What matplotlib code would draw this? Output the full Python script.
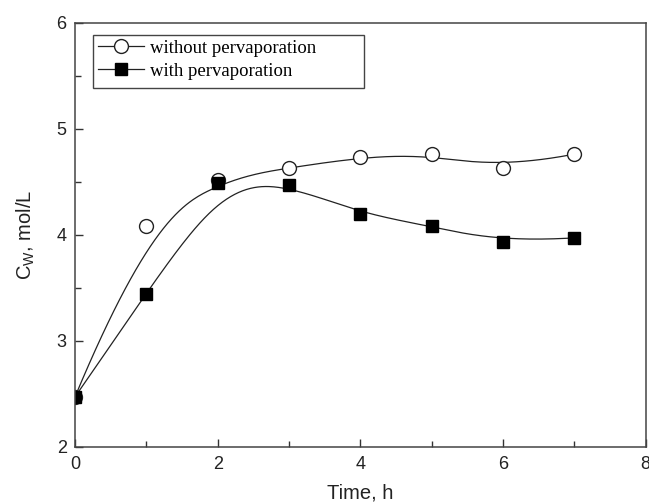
import matplotlib
matplotlib.use("Agg")
import matplotlib.pyplot as plt
from matplotlib.ticker import MultipleLocator
from matplotlib.lines import Line2D
from matplotlib.patches import Rectangle
import numpy as np

time_h = [0, 1, 2, 3, 4, 5, 6, 7]
cw_without = [2.47, 4.08, 4.52, 4.63, 4.73, 4.76, 4.63, 4.76]
cw_with = [2.47, 3.44, 4.49, 4.47, 4.20, 4.08, 3.93, 3.97]


def bspline(px, py, deg=3, num=300):
    # clamped uniform B-spline using the points as control points (like Origin's B-spline)
    n = len(px)
    inner = np.arange(1, n - deg)
    knots = np.concatenate([np.zeros(deg + 1), inner, np.full(deg + 1, n - deg)]).astype(float)
    t = np.linspace(0, n - deg, num)
    t[-1] -= 1e-9

    def basis(i, k, tt):
        if k == 0:
            return ((knots[i] <= tt) & (tt < knots[i + 1])).astype(float)
        a = np.zeros_like(tt)
        b = np.zeros_like(tt)
        if knots[i + k] != knots[i]:
            a = (tt - knots[i]) / (knots[i + k] - knots[i]) * basis(i, k - 1, tt)
        if knots[i + k + 1] != knots[i + 1]:
            b = (knots[i + k + 1] - tt) / (knots[i + k + 1] - knots[i + 1]) * basis(i + 1, k - 1, tt)
        return a + b

    B = np.array([basis(i, deg, t) for i in range(n)])
    return B.T @ np.asarray(px, float), B.T @ np.asarray(py, float)


plt.rcParams['font.family'] = 'Liberation Sans'

fig = plt.figure(figsize=(6.49, 5.04), dpi=100)
ax = fig.add_axes([75 / 649, 1 - 446.7 / 504, 570.7 / 649, 424 / 504])

for yv in (cw_without, cw_with):
    sx, sy = bspline(time_h, yv)
    ax.plot(sx, sy, color='#222222', lw=0.9)

ax.plot(time_h, cw_without, 'o', ls='none', ms=10, mfc='white', mec='#222222', mew=1.0)
ax.plot(time_h, cw_with, 's', ls='none', ms=9, mfc='black', mec='black')

ax.set_xlim(0, 8)
ax.set_ylim(2, 6)
ax.xaxis.set_major_locator(MultipleLocator(2))
ax.xaxis.set_minor_locator(MultipleLocator(1))
ax.yaxis.set_major_locator(MultipleLocator(1))
ax.yaxis.set_minor_locator(MultipleLocator(0.5))
ax.tick_params(which='both', direction='in', top=False, right=False, labelsize=13,
               colors='#333333', labelcolor='#222222')
ax.tick_params(which='major', length=6, width=1)
ax.tick_params(which='minor', length=4, width=1)
ax.tick_params(axis='x', pad=7)
ax.tick_params(axis='y', pad=6)
for s in ax.spines.values():
    s.set_color('#444444')
    s.set_linewidth(1.1)

ax.set_xlabel('Time, h', fontsize=14.5, color='#222222', labelpad=7)
ax.set_ylabel(r'C$_\mathregular{W}$, mol/L', fontsize=14.5, color='#222222', labelpad=14)

handles = [
    Line2D([], [], color='#222222', lw=0.9, marker='o', ms=10, mfc='white', mec='#222222'),
    Line2D([], [], color='#222222', lw=0.9, marker='s', ms=9, mfc='black', mec='black'),
]
leg = ax.legend(handles, ['without pervaporation', 'with pervaporation'],
                loc='upper left', bbox_to_anchor=(0.032, 0.971), frameon=False,
                prop={'family': 'Liberation Serif', 'size': 13.5}, handlelength=2.45,
                handletextpad=0.3, borderpad=0.25, labelspacing=0.32, borderaxespad=0)
ax.add_patch(Rectangle((0.032, 0.847), 0.475, 0.124, transform=ax.transAxes,
                       fill=False, ec='#444444', lw=1.0, zorder=5))

fig.savefig('out.png', dpi=100)
